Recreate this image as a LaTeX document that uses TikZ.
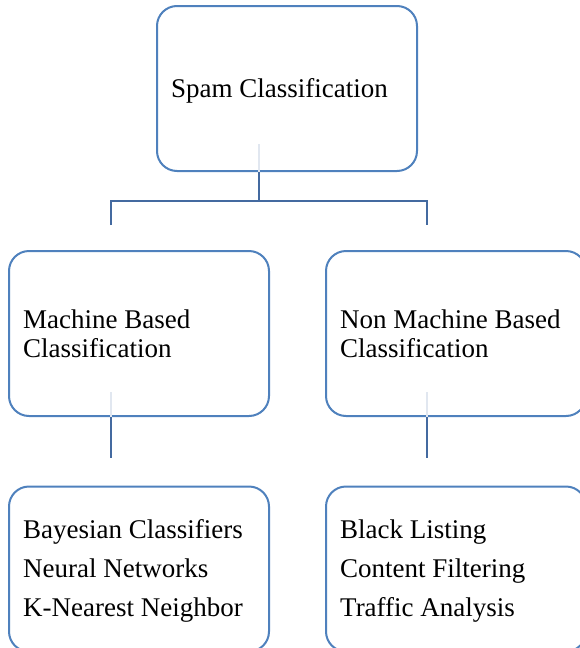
\documentclass[tikz,border=0pt]{standalone}
\usepackage{fontspec}
\setmainfont{Liberation Serif}
\definecolor{boxblue}{RGB}{79,129,189}
\definecolor{connblue}{RGB}{68,106,160}
\definecolor{faintline}{RGB}{225,231,240}
\begin{document}
\begin{tikzpicture}[x=1pt,y=-1pt,
  box/.style={draw=boxblue, line width=2pt, rectangle, rounded corners=20pt,
    minimum width=260pt, minimum height=165pt, inner sep=0pt, fill=white},
  conn/.style={draw=connblue, line width=2pt},
  faint/.style={draw=faintline, line width=1.5pt},
  txt/.style={anchor=base west, inner sep=0pt, font=\fontsize{27}{29}\selectfont}]
\useasboundingbox (0,0) rectangle (580,648);
\clip (0,0) rectangle (580,648);

% boxes
\node[box] (top)  at (287,88.5) {};
\node[box] (midL) at (139,333.5) {};
\node[box] (midR) at (456,333.5) {};
\node[box] (botL) at (139,569) {};
\node[box] (botR) at (456,569) {};

% connector coordinates
\coordinate (j0) at (259,201);
\coordinate (cL) at (111,225);
\coordinate (cR) at (427,225);
\coordinate (dL) at (111,458);
\coordinate (dR) at (427,458);

% faint traces inside boxes
\draw[faint] (top.south -| j0) -- ++(0,-28);
\draw[faint] (midL.south -| dL) -- ++(0,-25);
\draw[faint] (midR.south -| dR) -- ++(0,-25);

% connectors
\draw[conn] (top.south -| j0) -- (j0);
\draw[conn] (cL) -- (cL |- j0) -- (cR |- j0) -- (cR);
\draw[conn] (midL.south -| dL) -- (dL);
\draw[conn] (midR.south -| dR) -- (dR);

% texts
\node[txt] (tTop) at (171,97) {Spam Classification};
\node[txt] (tL1) at (23,328) {Machine Based};
\node[txt] (tL2) at (23,357) {Classification};
\node[txt] (tR1) at (340,328) {Non Machine Based};
\node[txt] (tR2) at (340,357) {Classification};
\node[txt] (bL1) at (23,538) {Bayesian Classifiers};
\node[txt] (bL2) at (23,577) {Neural Networks};
\node[txt] (bL3) at (23,616) {K-Nearest Neighbor};
\node[txt] (bR1) at (340,538) {Black Listing};
\node[txt] (bR2) at (340,577) {Content Filtering};
\node[txt] (bR3) at (340,616) {Traffic Analysis};
\end{tikzpicture}
\end{document}
